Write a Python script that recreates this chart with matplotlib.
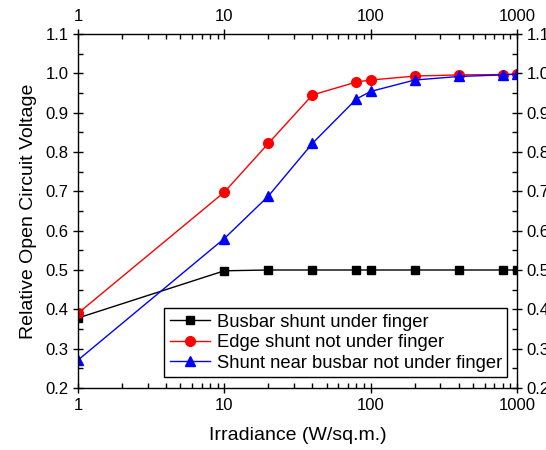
import matplotlib
matplotlib.use('Agg')
import matplotlib.pyplot as plt
from matplotlib.ticker import LogLocator, FixedLocator, MultipleLocator, NullFormatter

plt.rcParams['font.family'] = ['Liberation Sans', 'DejaVu Sans']

irradiance = [1, 10, 20, 40, 80, 100, 200, 400, 800, 1000]
busbar = [0.378, 0.498, 0.500, 0.500, 0.500, 0.500, 0.500, 0.500, 0.500, 0.500]
edge = [0.390, 0.698, 0.822, 0.945, 0.978, 0.983, 0.993, 0.996, 0.997, 0.998]
near = [0.271, 0.580, 0.688, 0.822, 0.935, 0.954, 0.983, 0.992, 0.996, 0.998]

labels = ['Busbar shunt under finger', 'Edge shunt not under finger',
          'Shunt near busbar not under finger']

fig = plt.figure(figsize=(5.46, 4.5), dpi=100)
ax = fig.add_axes([78/546, 62/450, 439/546, 354/450])

ax.plot(irradiance, busbar, color='black', marker='s', markersize=6, lw=1, label=labels[0])
ax.plot(irradiance, edge, color='red', marker='o', markersize=7, lw=1, label=labels[1])
ax.plot(irradiance, near, color='blue', marker='^', markersize=7.5, lw=1, label=labels[2])

ax.set_xscale('log')
ax.set_xlim(1, 1000)
ax.set_ylim(0.2, 1.1)
ax.yaxis.set_major_locator(MultipleLocator(0.1))
ax.yaxis.set_minor_locator(MultipleLocator(0.05))
ax.yaxis.set_major_formatter(plt.FuncFormatter(lambda v, p: f'{v:.1f}'))
ax.xaxis.set_major_locator(FixedLocator([1, 10, 100, 1000]))
ax.xaxis.set_major_formatter(plt.FuncFormatter(lambda v, p: f'{int(round(v))}'))
ax.xaxis.set_minor_locator(LogLocator(base=10, subs=range(2, 10)))
ax.xaxis.set_minor_formatter(NullFormatter())

ax.tick_params(which='major', direction='inout', length=7, width=1, labelsize=12,
               top=True, right=True, labeltop=True, labelright=True)
ax.tick_params(which='minor', direction='in', length=3.5, width=1, top=True, right=True)
for s in ax.spines.values():
    s.set_linewidth(1)

ax.set_xlabel('Irradiance (W/sq.m.)', fontsize=14, labelpad=10)
ax.set_ylabel('Relative Open Circuit Voltage', fontsize=14, labelpad=6)

leg = ax.legend(loc='lower right', bbox_to_anchor=(0.978, 0.03), fontsize=13.2,
                frameon=True, fancybox=False, edgecolor='black', framealpha=1,
                handlelength=2.2, borderpad=0.3, labelspacing=0.2, handletextpad=0.35,
                borderaxespad=0)
leg.get_frame().set_linewidth(1)

fig.savefig('out.png', dpi=100)
